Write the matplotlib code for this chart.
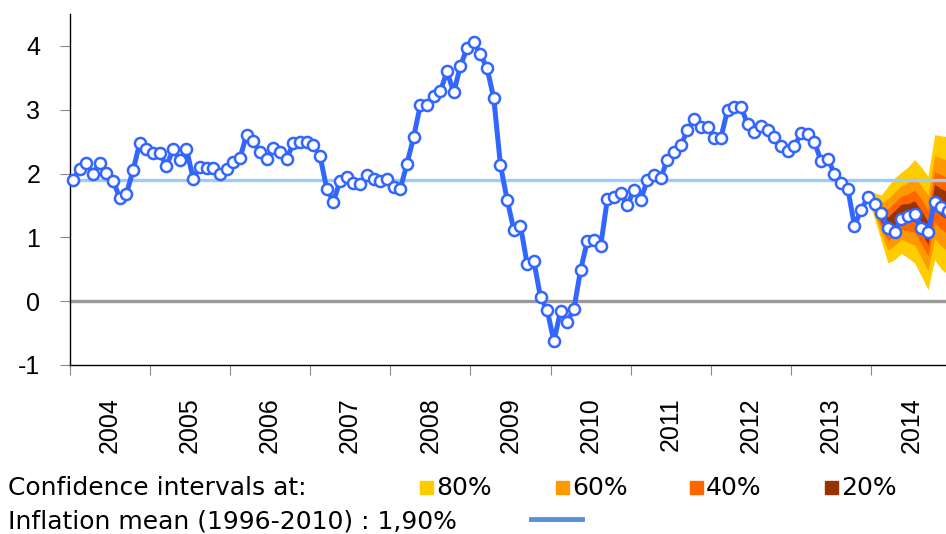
import matplotlib.pyplot as plt
from matplotlib.patches import Rectangle
from matplotlib.lines import Line2D
import numpy as np

# monthly inflation, Jan 2004 .. Dec 2014
inflation = [
    1.90, 2.07, 2.17, 1.99, 2.17, 2.01, 1.89, 1.62, 1.68, 2.05, 2.48, 2.39,
    2.32, 2.32, 2.12, 2.38, 2.21, 2.38, 1.92, 2.11, 2.09, 2.09, 2.00, 2.07,
    2.18, 2.24, 2.61, 2.51, 2.33, 2.23, 2.40, 2.34, 2.23, 2.48, 2.49, 2.49,
    2.44, 2.27, 1.76, 1.56, 1.89, 1.94, 1.85, 1.84, 1.97, 1.92, 1.88, 1.92,
    1.79, 1.76, 2.15, 2.57, 3.07, 3.07, 3.22, 3.29, 3.60, 3.27, 3.68, 3.97,
    4.06, 3.87, 3.65, 3.18, 2.13, 1.59, 1.12, 1.18, 0.58, 0.63, 0.06, -0.14,
    -0.63, -0.15, -0.32, -0.12, 0.49, 0.94, 0.96, 0.86, 1.60, 1.64, 1.70, 1.50,
    1.75, 1.59, 1.90, 1.98, 1.93, 2.22, 2.33, 2.44, 2.68, 2.85, 2.73, 2.73,
    2.56, 2.56, 3.00, 3.05, 3.05, 2.77, 2.65, 2.74, 2.68, 2.58, 2.43, 2.36,
    2.43, 2.63, 2.62, 2.50, 2.19, 2.23, 2.00, 1.85, 1.76, 1.18, 1.43, 1.63,
    1.53, 1.38, 1.15, 1.09, 1.29, 1.33, 1.37, 1.15, 1.08, 1.55, 1.47, 1.41,
]
years = [str(y) for y in range(2004, 2015)]
mean_infl = 1.90

# fan chart, Dec 2013 .. Dec 2014 (month index 119..131)
fan_start = 119
lo80 = [1.60, 1.30, 0.95, 0.60, 0.65, 0.75, 0.68, 0.60, 0.40, 0.18, 0.65, 0.50, 0.42]
hi80 = [1.74, 1.70, 1.66, 1.80, 1.93, 2.02, 2.10, 2.22, 2.10, 1.96, 2.61, 2.59, 2.58]
lo60 = [1.62, 1.37, 1.07, 0.80, 0.87, 0.97, 0.92, 0.88, 0.69, 0.48, 0.98, 0.86, 0.79]
hi60 = [1.72, 1.63, 1.55, 1.60, 1.71, 1.81, 1.86, 1.94, 1.81, 1.66, 2.28, 2.24, 2.21]
lo40 = [1.64, 1.42, 1.16, 0.95, 1.03, 1.13, 1.10, 1.08, 0.90, 0.71, 1.23, 1.12, 1.06]
hi40 = [1.70, 1.58, 1.46, 1.45, 1.55, 1.65, 1.68, 1.74, 1.60, 1.43, 2.03, 1.98, 1.94]
lo20 = [1.66, 1.46, 1.24, 1.08, 1.16, 1.26, 1.25, 1.25, 1.08, 0.89, 1.43, 1.34, 1.28]
hi20 = [1.68, 1.54, 1.38, 1.32, 1.42, 1.52, 1.53, 1.57, 1.42, 1.25, 1.83, 1.76, 1.72]

ci_labels = ['80%', '60%', '40%', '20%']
ci_colors = ['#ffcc00', '#ff9900', '#ff6600', '#993300']

fig = plt.figure(figsize=(9.46, 5.34), dpi=100)
ax = fig.add_axes([69.6 / 946, 1 - 365 / 534, 1 - 69.6 / 946, (365 - 14) / 534])

x = np.arange(len(inflation)) + 0.5
xf = np.arange(fan_start, fan_start + len(lo80)) + 0.5

bands = [(lo80, hi80), (lo60, hi60), (lo40, hi40), (lo20, hi20)]
for (lo, hi), c in zip(bands, ci_colors):
    ax.fill_between(xf, lo, hi, color=c, lw=0, zorder=1)

# reference lines sit over the fan
ax.axhline(0, color='#999999', lw=2.4, zorder=2)
ax.plot([x[0], x[-1] + 1], [mean_infl, mean_infl], color='#99ccff', lw=2.4, zorder=3)

ax.plot(x, inflation, color='#3366ff', lw=3.6, marker='o', ms=8,
        mfc='white', mec='#3366ff', mew=1.8, zorder=4, clip_on=False)

ax.set_xlim(0, 131.2)
ax.set_ylim(-1, 4.5)
ax.set_yticks(range(-1, 5))
ax.set_yticklabels([str(v) for v in range(-1, 5)], fontsize=18, family='Liberation Sans')
ax.tick_params(axis='y', length=7, color='#888888', pad=14)

ax.set_xticks(range(0, 132, 12))
ax.set_xticklabels([])
ax.set_xticks([i * 12 + 6 for i in range(len(years))], minor=True)
ax.set_xticklabels(years, minor=True, rotation=90, fontsize=18, family='Liberation Sans')
ax.tick_params(axis='x', which='major', length=7, color='#888888')
ax.tick_params(axis='x', which='minor', length=0, pad=23)

for s in ['top', 'right']:
    ax.spines[s].set_visible(False)
for s in ['left', 'bottom']:
    ax.spines[s].set_linewidth(1.0)

# legend below the chart
fs = 18
fig.text(8 / 946, 1 - 488 / 534, 'Confidence intervals at:', fontsize=fs, va='center')
sq_x = [420, 556, 690, 825]
for lab, c, sx in zip(ci_labels, ci_colors, sq_x):
    fig.patches.append(Rectangle((sx / 946, 1 - 494 / 534), 13 / 946, 13 / 534,
                                 transform=fig.transFigure, color=c))
    fig.text((sx + 16) / 946, 1 - 488 / 534, lab, fontsize=fs, va='center')
fig.text(8 / 946, 1 - 521 / 534, 'Inflation mean (1996-2010) : 1,90%', fontsize=fs, va='center')
fig.lines.append(Line2D([531 / 946, 582 / 946], [1 - 519 / 534, 1 - 519 / 534],
                        transform=fig.transFigure, color='#5b8fd6', lw=3.5))

fig.savefig('out.png', dpi=100)
